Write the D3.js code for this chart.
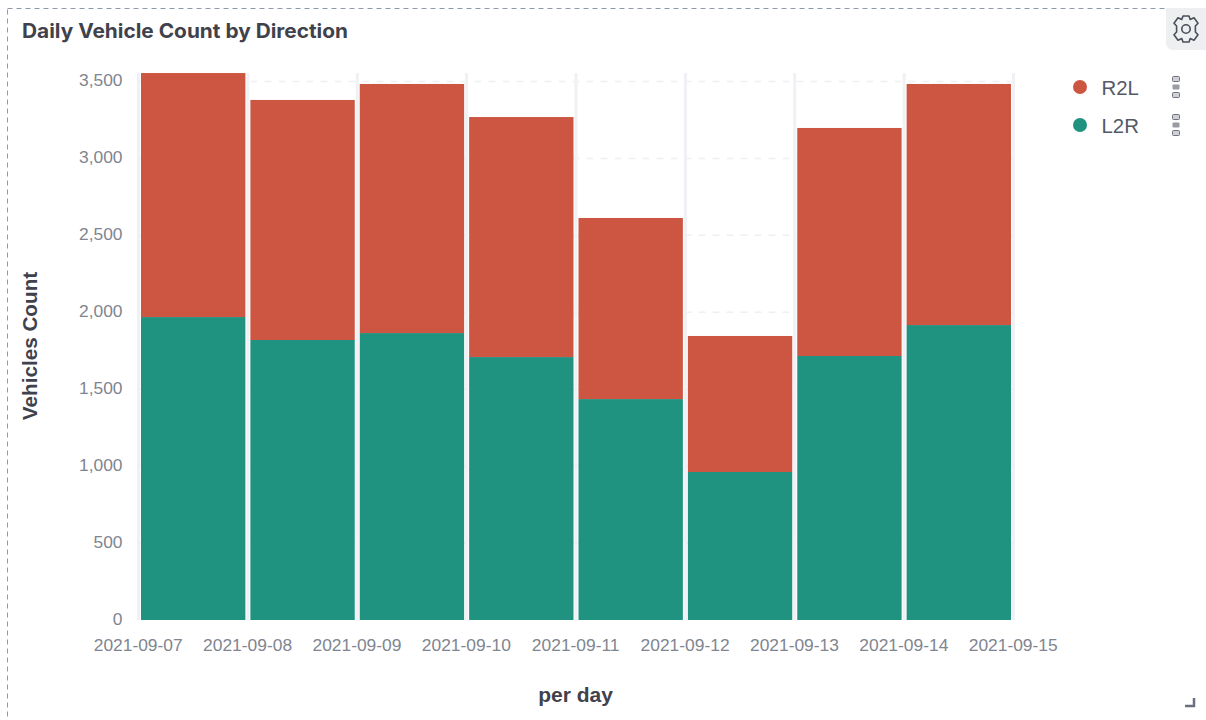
<!DOCTYPE html>
<html>
<head>
<meta charset="utf-8">
<script src="https://cdn.jsdelivr.net/npm/d3@7/dist/d3.min.js"></script>
<style>
html,body{margin:0;padding:0;background:#fff;}
svg{display:block;}
</style>
</head>
<body>
<svg id="chart" width="1206" height="720"></svg>
<script>
const days = ["2021-09-07","2021-09-08","2021-09-09","2021-09-10","2021-09-11","2021-09-12","2021-09-13","2021-09-14"];
const endDay = "2021-09-15";
const l2r = [1969,1820,1865,1709,1436,962,1716,1917];
const r2l = [1586,1560,1619,1560,1177,884,1482,1567];
const yTicks = [0,500,1000,1500,2000,2500,3000,3500];
const seriesNames = ["R2L","L2R"];
const seriesColors = {R2L:"#cc5642",L2R:"#209280"};

const parse = d3.utcParse("%Y-%m-%d");
const fmt = d3.utcFormat("%Y-%m-%d");
const svg = d3.select("#chart");
const tickFont = '"Liberation Sans",Arial,sans-serif';

const plot = {left:138.5,right:1013.5,top:73,bottom:620};
const x = d3.scaleUtc().domain([parse(days[0]),parse(endDay)]).range([plot.left,plot.right]);
const y = d3.scaleLinear().domain([0,3500]).range([plot.bottom,81.5]);

// panel outline
svg.append("rect").attr("x",7.5).attr("y",8.5).attr("width",1300).attr("height",800)
  .attr("fill","none").attr("stroke","#8f99ad").attr("stroke-width",1).attr("stroke-dasharray","5 4");

svg.append("text").attr("x",22).attr("y",38).attr("font-family","Inter,sans-serif").attr("font-size",20).attr("font-weight",700)
  .attr("fill","#3f424c").attr("textLength",326).attr("lengthAdjust","spacingAndGlyphs").text("Daily Vehicle Count by Direction");

// settings button
svg.append("path").attr("fill","#eeeff1")
  .attr("d","M1166,8 H1206 V50 H1173 a7,7 0 0 1 -7,-7 Z");
const gear = svg.append("g").attr("transform","translate(1186,29)")
  .attr("fill","none").attr("stroke","#4a4f5a").attr("stroke-width",1.6).attr("stroke-linejoin","round");
gear.append("circle").attr("r",4.2);
gear.append("path").attr("d","M-3,-13 H3 L4.2,-9.6 L8,-11.2 L12,-5.8 L9.4,-3 L9.4,3 L12,5.8 L8,11.2 L4.2,9.6 L3,13 H-3 L-4.2,9.6 L-8,11.2 L-12,5.8 L-9.4,3 L-9.4,-3 L-12,-5.8 L-8,-11.2 L-4.2,-9.6 Z");

// grid
const grid = svg.append("g");
grid.selectAll("line.h").data(yTicks.filter(d=>d>0)).join("line").attr("class","h")
  .attr("x1",plot.left).attr("x2",plot.right).attr("y1",d=>y(d)).attr("y2",d=>y(d))
  .attr("stroke","#eff0f3").attr("stroke-width",1.5).attr("stroke-dasharray","7 7");
grid.selectAll("line.v").data(days.concat(endDay)).join("line").attr("class","v")
  .attr("x1",d=>x(parse(d))).attr("x2",d=>x(parse(d))).attr("y1",plot.top).attr("y2",plot.bottom)
  .attr("stroke","#f0f1f5").attr("stroke-width",3);

// stacked bars, one column per day
const rows = days.map((d,i)=>({day:d,L2R:l2r[i],R2L:r2l[i]}));
const stacked = d3.stack().keys(["L2R","R2L"])(rows);
svg.append("g").selectAll("g").data(stacked).join("g").attr("fill",s=>seriesColors[s.key])
  .selectAll("rect").data(s=>s).join("rect")
  .attr("x",d=>x(parse(d.data.day))+2.5)
  .attr("width",d=>x(d3.utcDay.offset(parse(d.data.day),1))-x(parse(d.data.day))-5)
  .attr("y",d=>y(d[1])).attr("height",d=>y(d[0])-y(d[1]));

// axes
const yAxis = d3.axisLeft(y).tickValues(yTicks).tickFormat(d3.format(",")).tickSize(0).tickPadding(16);
const gy = svg.append("g").attr("transform",`translate(${plot.left},0)`).call(yAxis);
gy.select(".domain").remove();
gy.selectAll("text").attr("font-family",tickFont).attr("font-size",17.4).attr("fill","#80858f").attr("dy","0.25em");

const xAxis = d3.axisBottom(x).tickValues(days.concat(endDay).map(parse)).tickFormat(fmt).tickSize(0).tickPadding(19);
const gx = svg.append("g").attr("transform",`translate(-0.8,${plot.bottom})`).call(xAxis);
gx.select(".domain").remove();
gx.selectAll("text").attr("font-family",tickFont).attr("font-size",17.4).attr("fill","#80858f");

svg.append("text").attr("transform","translate(37,346) rotate(-90)").attr("text-anchor","middle")
  .attr("font-family",tickFont).attr("font-size",20.7).attr("font-weight",700).attr("fill","#3f424c").text("Vehicles Count");
svg.append("text").attr("x",575.5).attr("y",702).attr("text-anchor","middle")
  .attr("font-family",tickFont).attr("font-size",21).attr("font-weight",700).attr("fill","#3f424c").text("per day");

// legend
const legend = svg.append("g").selectAll("g").data(seriesNames).join("g")
  .attr("transform",(d,i)=>`translate(0,${87+i*38})`);
legend.append("circle").attr("cx",1080).attr("r",7).attr("fill",d=>seriesColors[d]);
legend.append("text").attr("x",1101.5).attr("y",7.5).attr("font-family",tickFont).attr("font-size",20.4).attr("fill","#535966").text(d=>d);
[-8,0,8].forEach(o=>{
  legend.append("rect").attr("x",1172.5).attr("y",o-2.5).attr("width",7).attr("height",5).attr("rx",1)
    .attr("fill",o===0?"#9a9ca3":"#d0d1d5").attr("stroke","#6e7280").attr("stroke-width",o===0?0:1);
});

// resize handle
svg.append("path").attr("d","M1185,706 H1194 V698").attr("fill","none").attr("stroke","#6a7080").attr("stroke-width",2.5);
</script>
</body>
</html>
